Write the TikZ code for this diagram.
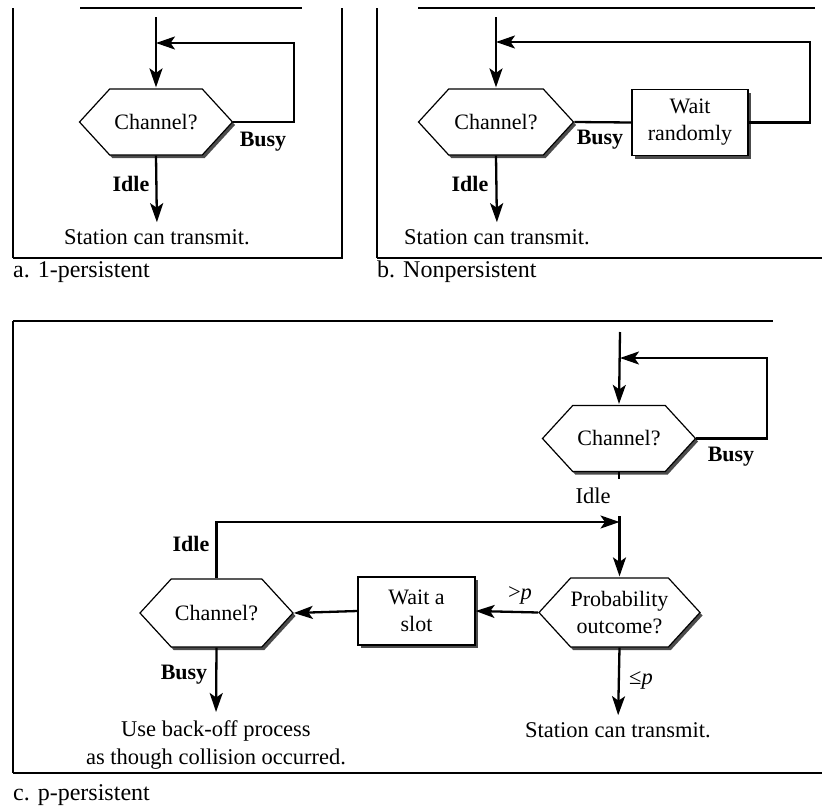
\documentclass[tikz,border=0pt]{standalone}
\usepackage{fontspec}
\setmainfont{Liberation Serif}
\usetikzlibrary{shapes.symbols,shadows,arrows.meta,calc}
\begin{document}
\begin{tikzpicture}[x=1pt,y=-1pt,
  shad/.style={drop shadow={shadow xshift=2.5pt,shadow yshift=-3pt,fill=black!70,opacity=1}},
  hexnode/.style={signal, signal to=west and east, signal pointer angle=95, draw, line width=1.2pt,
    fill=white, inner sep=0pt, minimum width=153pt, minimum height=66pt, align=center,
    font=\fontsize{22}{27}\selectfont, shad},
  boxnode/.style={draw, rectangle, line width=1.2pt, fill=white, inner sep=0pt,
    minimum width=116pt, minimum height=66pt, align=center, font=\fontsize{22}{27}\selectfont, shad},
  arr/.style={line width=2.3pt, -{Stealth[length=19pt,width=13pt,inset=4.5pt]}},
  conn/.style={line width=2.3pt},
  lbl/.style={inner sep=0pt, font=\bfseries\fontsize{22}{26}\selectfont},
  txt/.style={inner sep=0pt, align=center, font=\fontsize{22.5}{28}\selectfont},
  captext/.style={inner sep=0pt, anchor=west, font=\fontsize{24}{28}\selectfont},
  frame/.style={line width=2pt}]
\useasboundingbox (0,0) rectangle (822,806);

% ---------- frames ----------
\draw[frame,line width=2.6pt] (13,8) -- (13,258);
\draw[frame] (13,258) -- (342,258) -- (342,8);
\draw[line width=1.5pt] (80,8) -- (302,8);
\draw[frame,line width=2.6pt] (377,8) -- (377,258);
\draw[frame] (377,258) -- (822,258);
\draw[line width=1.5pt] (418,8) -- (815,8);
\draw[frame,line width=2.6pt] (13,321) -- (13,773);
\draw[frame] (13,773) -- (822,773);
\draw[line width=1.5pt] (13,321) -- (773,321);

% ---------- panel a ----------
\coordinate (a-top) at (156,17);
\coordinate (a-corner) at (294,43);
\coordinate (a-join) at (156,43);
\node[hexnode] (a-ch) at (156,122) {Channel?};
\node[txt] (a-st) at (157,237) {Station can transmit.};
\node[lbl] (a-busy) at (263,142) {Busy};
\node[lbl] (a-idle) at (131,184) {Idle};
\draw[arr,shorten >=1pt] (a-top) -- (a-ch.north);
\draw[arr] (a-ch.east) -| (a-corner) -- (a-join);
\draw[arr,shorten >=7pt] (a-ch.south) -- (a-st.north);
\node[captext] (a-cap) at (13,272) {a. 1-persistent};

% ---------- panel b ----------
\coordinate (b-top) at (496,17);
\coordinate (b-corner) at (810,42);
\coordinate (b-join) at (496,42);
\node[hexnode, minimum width=155pt] (b-ch) at (496,122) {Channel?};
\node[boxnode] (b-wait) at (690,122.5) {Wait\\randomly};
\node[txt] (b-st) at (497,237) {Station can transmit.};
\node[lbl] (b-busy) at (600,140) {Busy};
\node[lbl] (b-idle) at (470,184) {Idle};
\draw[arr,shorten >=1pt] (b-top) -- (b-ch.north);
\draw[conn] (b-ch.east) -- (b-wait.west);
\draw[arr] (b-wait.east) -| (b-corner) -- (b-join);
\draw[arr,shorten >=7pt] (b-ch.south) -- (b-st.north);
\node[captext] (b-cap) at (377,272) {b. Nonpersistent};

% ---------- panel c ----------
\coordinate (c-top) at (620,332);
\coordinate (c-corner) at (767,358);
\coordinate (c-join) at (620,358);
\node[hexnode] (c-ch1) at (619,438.5) {Channel?};
\node[lbl] (c-busy1) at (731,457) {Busy};
\node[txt] (c-idle1) at (593,496) {Idle};
\draw[arr,shorten >=1pt] (c-top) -- (c-ch1.north);
\draw[arr] (c-ch1.east) -| (c-corner) -- (c-join);
\draw[conn] (c-ch1.south) -- ++(0,7);

\node[hexnode, minimum width=155pt, minimum height=69pt] (c-pr) at (619.5,612.5) {Probability\\outcome?};
\node[boxnode, minimum width=117pt, minimum height=68pt] (c-wait) at (416.5,611) {Wait a\\slot};
\node[hexnode, minimum height=68pt] (c-ch2) at (216.5,613) {Channel?};
\coordinate (c-in) at (619.5,516);
\coordinate (c-join2) at (619.5,522);
\draw[arr,shorten >=1pt] (c-in) -- (c-pr.north);
\draw[arr] (c-ch2.north) |- (c-join2);
\draw[arr] (c-pr.west) -- (c-wait.east);
\draw[arr] (c-wait.west) -- (c-ch2.east);
\node[lbl] (c-idle2) at (191,544) {Idle};
\node[lbl] (c-busy2) at (184,675) {Busy};
\node[txt] (c-gt) at (520,595) {>\textit{p}};
\node[txt] (c-le) at (641,680) {≤\textit{p}};
\node[txt] (c-st) at (618,730) {Station can transmit.};
\node[txt, anchor=north] (c-bo) at (216,720) {Use back-off process\\as though collision occurred.};
\draw[arr,shorten >=7pt] (c-pr.south) -- (c-st.north);
\draw[arr,shorten >=8pt] (c-ch2.south) -- (c-bo.north);
\node[captext] (c-cap) at (13,795) {c. p-persistent};
\end{tikzpicture}
\end{document}
